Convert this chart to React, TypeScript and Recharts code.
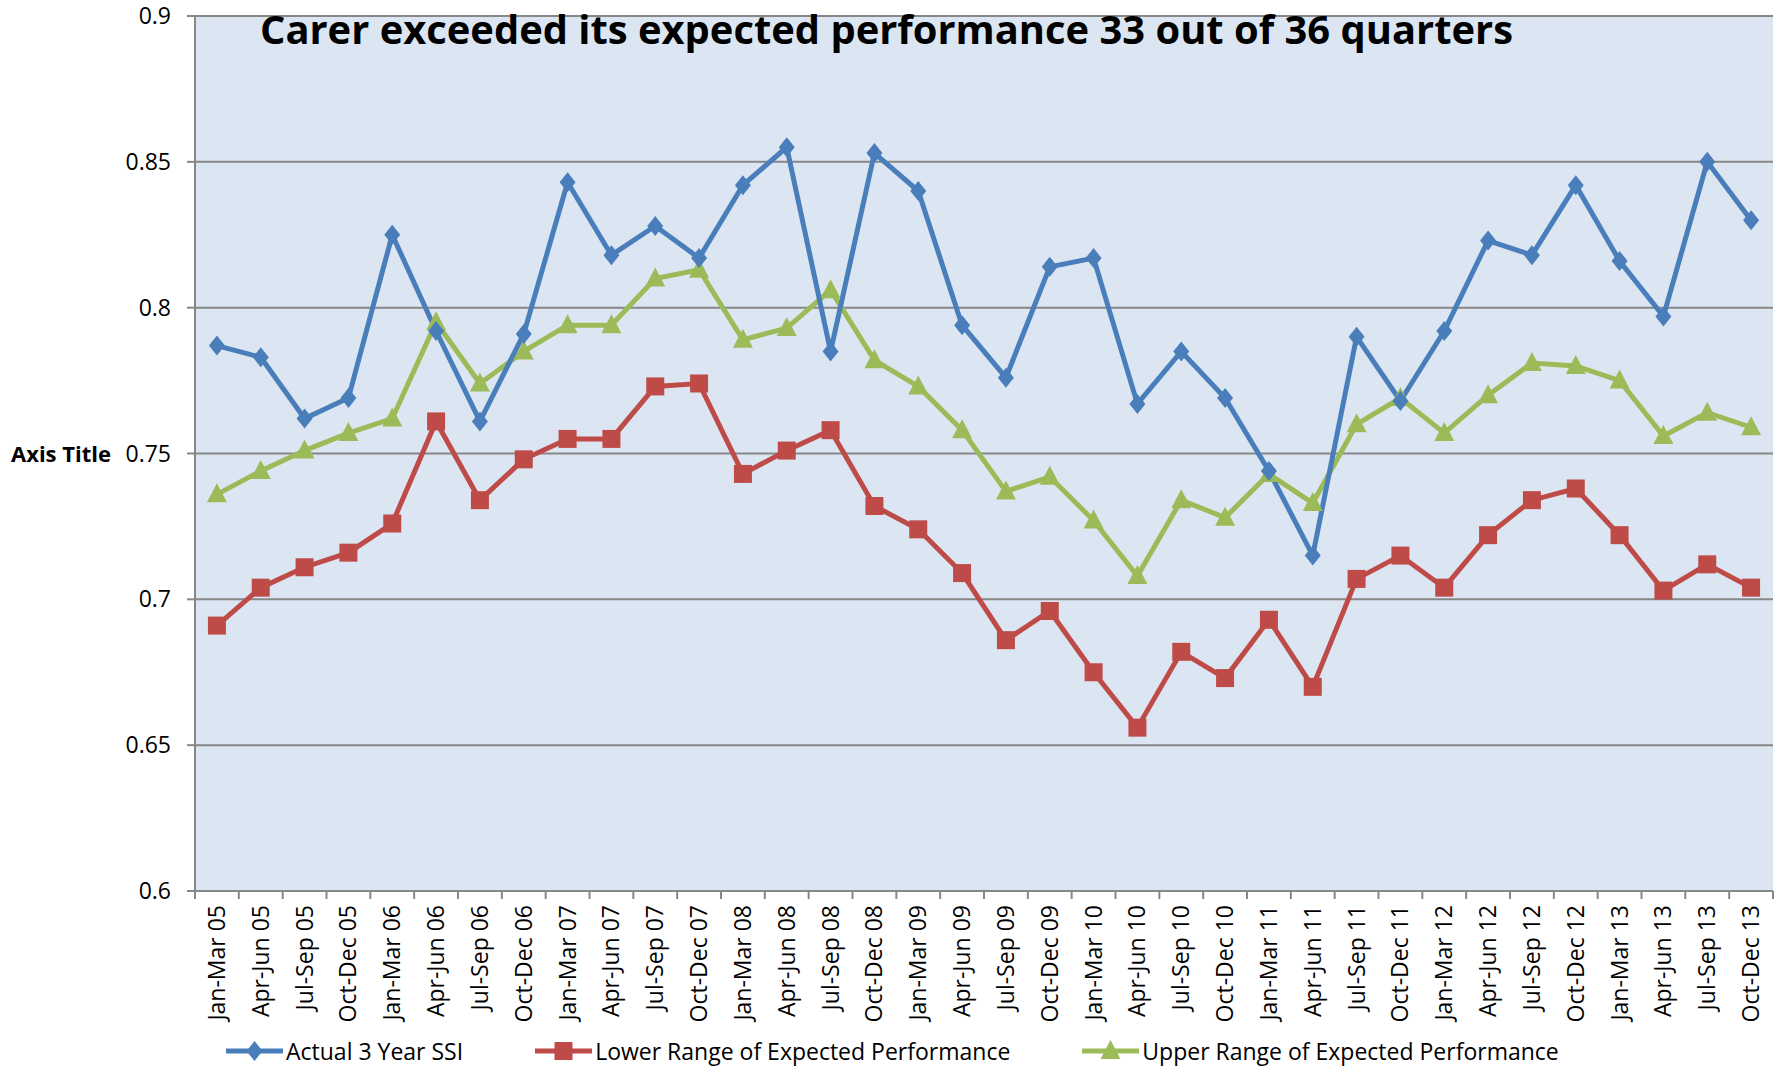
import { CartesianGrid, Line, LineChart, XAxis, YAxis } from 'recharts'

const quarters = [
  'Jan-Mar 05', 'Apr-Jun 05', 'Jul-Sep 05', 'Oct-Dec 05',
  'Jan-Mar 06', 'Apr-Jun 06', 'Jul-Sep 06', 'Oct-Dec 06',
  'Jan-Mar 07', 'Apr-Jun 07', 'Jul-Sep 07', 'Oct-Dec 07',
  'Jan-Mar 08', 'Apr-Jun 08', 'Jul-Sep 08', 'Oct-Dec 08',
  'Jan-Mar 09', 'Apr-Jun 09', 'Jul-Sep 09', 'Oct-Dec 09',
  'Jan-Mar 10', 'Apr-Jun 10', 'Jul-Sep 10', 'Oct-Dec 10',
  'Jan-Mar 11', 'Apr-Jun 11', 'Jul-Sep 11', 'Oct-Dec 11',
  'Jan-Mar 12', 'Apr-Jun 12', 'Jul-Sep 12', 'Oct-Dec 12',
  'Jan-Mar 13', 'Apr-Jun 13', 'Jul-Sep 13', 'Oct-Dec 13',
]

const actualSSI = [
  0.787, 0.783, 0.762, 0.769, 0.825, 0.792, 0.761, 0.791, 0.843, 0.818, 0.828, 0.817,
  0.842, 0.855, 0.785, 0.853, 0.84, 0.794, 0.776, 0.814, 0.817, 0.767, 0.785, 0.769,
  0.744, 0.715, 0.79, 0.768, 0.792, 0.823, 0.818, 0.842, 0.816, 0.797, 0.85, 0.83,
]

const lowerRange = [
  0.691, 0.704, 0.711, 0.716, 0.726, 0.761, 0.734, 0.748, 0.755, 0.755, 0.773, 0.774,
  0.743, 0.751, 0.758, 0.732, 0.724, 0.709, 0.686, 0.696, 0.675, 0.656, 0.682, 0.673,
  0.693, 0.67, 0.707, 0.715, 0.704, 0.722, 0.734, 0.738, 0.722, 0.703, 0.712, 0.704,
]

const upperRange = [
  0.736, 0.744, 0.751, 0.757, 0.762, 0.795, 0.774, 0.785, 0.794, 0.794, 0.81, 0.813,
  0.789, 0.793, 0.806, 0.782, 0.773, 0.758, 0.737, 0.742, 0.727, 0.708, 0.734, 0.728,
  0.743, 0.733, 0.76, 0.769, 0.757, 0.77, 0.781, 0.78, 0.775, 0.756, 0.764, 0.759,
]

const yTicks = [0.6, 0.65, 0.7, 0.75, 0.8, 0.85, 0.9]

const W = 1775
const H = 1070
const Y_AXIS_W = 195
const RIGHT = 2
const FONT = '"Open Sans", sans-serif'
const GRID = '#878787'
const BLUE = '#4A7EBB'
const RED = '#BE4B48'
const GREEN = '#9BBB59'

const data = quarters.map((q, i) => ({
  q,
  actual: actualSSI[i],
  lower: lowerRange[i],
  upper: upperRange[i],
}))

// categories sit in the middle of equal bands, like Excel
const halfBand = (W - Y_AXIS_W - RIGHT) / quarters.length / 2

const diamond = (cx: number, cy: number) =>
  `M${cx},${cy - 10}L${cx + 8},${cy}L${cx},${cy + 10}L${cx - 8},${cy}Z`
const square = (cx: number, cy: number) =>
  `M${cx - 9},${cy - 9}h18v18h-18Z`
const triangle = (cx: number, cy: number) =>
  `M${cx},${cy - 11}L${cx + 10},${cy + 8}L${cx - 10},${cy + 8}Z`

function makeDot(shape: (cx: number, cy: number) => string, color: string) {
  return (p: any) => <path key={p.index} d={shape(p.cx, p.cy)} fill={color} />
}

function QuarterTick(p: any) {
  const { x, y, payload, index } = p
  const axisY = y - 14
  return (
    <g>
      <line x1={x - halfBand} x2={x - halfBand} y1={axisY} y2={axisY + 8} stroke={GRID} strokeWidth={2} />
      {index === quarters.length - 1 && (
        <line x1={x + halfBand} x2={x + halfBand} y1={axisY} y2={axisY + 8} stroke={GRID} strokeWidth={2} />
      )}
      <text
        transform={`translate(${x},${y}) rotate(-90)`}
        textAnchor="end"
        dy="0.35em"
        fontSize={23}
        fontFamily={FONT}
        fill="#000"
      >
        {payload.value}
      </text>
    </g>
  )
}

const legendItems = [
  { label: 'Actual 3 Year SSI', color: BLUE, shape: diamond },
  { label: 'Lower Range of Expected Performance', color: RED, shape: square },
  { label: 'Upper Range of Expected Performance', color: GREEN, shape: triangle },
]

export default function App() {
  return (
    <div style={{ position: 'absolute', left: 0, top: 0, width: W, height: H, background: '#fff', fontFamily: FONT }}>
      <LineChart width={W} height={H} data={data} margin={{ top: 16, right: RIGHT, left: 0, bottom: 49 }}>
        <CartesianGrid vertical={false} stroke={GRID} strokeWidth={2} fill="#DCE6F2" fillOpacity={1} />
        <XAxis
          dataKey="q"
          interval={0}
          height={130}
          padding={{ left: halfBand, right: halfBand }}
          tickSize={8}
          tickMargin={6}
          tickLine={false}
          axisLine={{ stroke: GRID, strokeWidth: 2 }}
          tick={<QuarterTick />}
        />
        <YAxis
          width={Y_AXIS_W}
          domain={[0.6, 0.9]}
          ticks={yTicks}
          interval={0}
          tickSize={8}
          tickMargin={16}
          axisLine={{ stroke: GRID, strokeWidth: 2 }}
          tickLine={{ stroke: GRID, strokeWidth: 2 }}
          tick={{ fill: '#000', fontSize: 23, fontFamily: FONT }}
        />
        <Line type="linear" dataKey="upper" stroke={GREEN} strokeWidth={5} dot={makeDot(triangle, GREEN)} activeDot={false} isAnimationActive={false} />
        <Line type="linear" dataKey="lower" stroke={RED} strokeWidth={5} dot={makeDot(square, RED)} activeDot={false} isAnimationActive={false} />
        <Line type="linear" dataKey="actual" stroke={BLUE} strokeWidth={5} dot={makeDot(diamond, BLUE)} activeDot={false} isAnimationActive={false} />
        <text x={260} y={44} fontSize={40} fontWeight="bold" fontFamily={FONT} fill="#000" textLength={1253} lengthAdjust="spacingAndGlyphs">
          Carer exceeded its expected performance 33 out of 36 quarters
        </text>
        <text x={11} y={454} dy="0.35em" fontSize={22} fontWeight="bold" fontFamily={FONT} fill="#000">
          Axis Title
        </text>
      </LineChart>
      <div style={{ position: 'absolute', left: 226, top: 1035, display: 'flex', gap: 72, alignItems: 'center' }}>
        {legendItems.map((it) => (
          <div key={it.label} style={{ display: 'flex', alignItems: 'center', gap: 3 }}>
            <svg width={57} height={30}>
              <line x1={0} x2={57} y1={15} y2={15} stroke={it.color} strokeWidth={5} />
              <path d={it.shape(28.5, 15)} fill={it.color} />
            </svg>
            <span style={{ fontSize: 23, color: '#000', whiteSpace: 'nowrap' }}>{it.label}</span>
          </div>
        ))}
      </div>
    </div>
  )
}
